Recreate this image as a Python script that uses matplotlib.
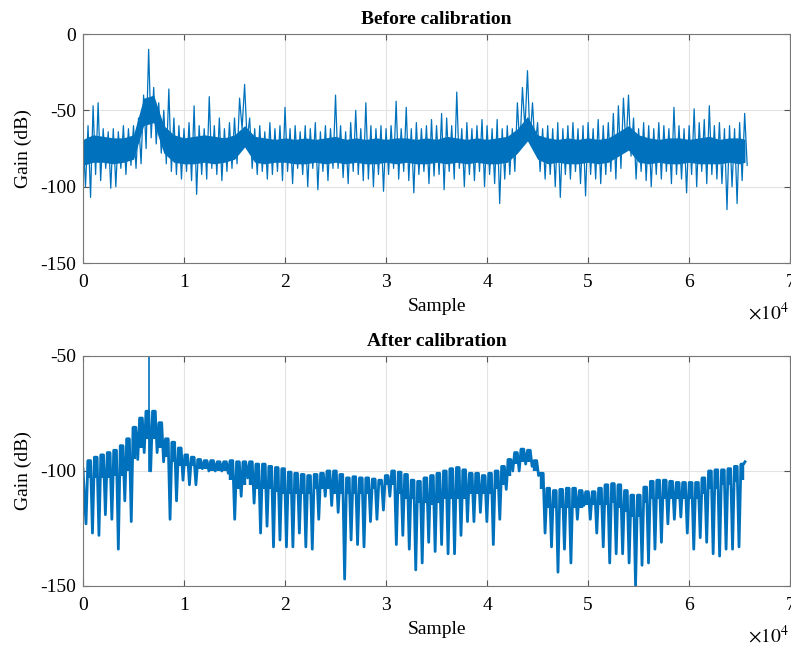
import numpy as np
import matplotlib
matplotlib.use("Agg")
import matplotlib.pyplot as plt

plt.rcParams['font.family'] = ['Liberation Serif', 'DejaVu Serif']
plt.rcParams['mathtext.fontset'] = 'stix'

n_samples = 65536

# ---- Before calibration: noisy spectrum, read as high/low swing every 500 samples
before_step = 500
before_hi = [
    -66, -60, -47, -45, -62, -64, -62, -64, -60, -62,
    -60, -55, -40, -10, -35, -45, -50, -36, -55, -60,
    -62, -58, -47, -60, -62, -41, -60, -55, -62, -58,
    -55, -42, -33, -55, -62, -60, -64, -58, -62, -60,
    -48, -62, -60, -64, -60, -62, -58, -64, -60, -62,
    -40, -60, -64, -58, -50, -62, -45, -60, -62, -60,
    -62, -60, -44, -62, -48, -62, -58, -62, -60, -56,
    -60, -52, -55, -60, -38, -62, -58, -62, -60, -56,
    -60, -62, -56, -62, -60, -62, -45, -35, -24, -45,
    -58, -62, -60, -62, -58, -62, -60, -58, -62, -60,
    -58, -62, -56, -60, -58, -52, -47, -42, -40, -55,
    -62, -58, -60, -62, -58, -60, -62, -48, -60, -62,
    -60, -49, -58, -56, -47, -60, -58, -62, -60, -62, -58, -52]
before_lo = [
    -100, -107, -92, -96, -88, -101, -100, -88, -92, -86,
    -88, -85, -75, -68, -72, -78, -85, -90, -92, -95,
    -90, -96, -105, -92, -95, -88, -92, -96, -90, -88,
    -85, -62, -70, -88, -92, -90, -95, -92, -90, -96,
    -90, -98, -88, -92, -100, -88, -102, -90, -96, -88,
    -88, -94, -98, -90, -92, -96, -95, -100, -92, -103,
    -92, -88, -95, -90, -96, -104, -92, -90, -98, -93,
    -92, -102, -90, -95, -88, -100, -92, -96, -90, -100,
    -92, -98, -111, -95, -92, -90, -75, -62, -70, -75,
    -90, -95, -92, -100, -107, -92, -95, -90, -98, -106,
    -92, -95, -98, -92, -90, -95, -88, -75, -80, -95,
    -90, -96, -100, -92, -95, -90, -98, -92, -95, -104,
    -92, -100, -90, -98, -92, -95, -98, -115, -100, -111, -96, -86]

# dense core of the noise band, every 1000 samples
core_step = 1000
before_core_hi = [
    -69, -66, -67, -68, -68, -66, -42, -40, -60, -66,
    -68, -67, -66, -67, -68, -66, -60, -67, -68, -69,
    -68, -69, -68, -69, -68, -67, -69, -68, -69, -68,
    -69, -68, -68, -69, -68, -69, -67, -68, -69, -68,
    -69, -68, -67, -62, -54, -66, -68, -69, -68, -69,
    -68, -69, -68, -64, -60, -66, -68, -69, -68, -68,
    -69, -68, -67, -69, -68, -68, -69]
before_core_lo = [
    -86, -84, -84, -85, -84, -82, -60, -58, -78, -84,
    -85, -85, -84, -85, -84, -82, -74, -84, -85, -84,
    -84, -85, -85, -84, -85, -84, -85, -84, -85, -85,
    -84, -85, -84, -85, -85, -84, -85, -84, -85, -84,
    -85, -85, -84, -78, -70, -82, -85, -84, -85, -85,
    -84, -85, -84, -80, -76, -84, -85, -84, -85, -85,
    -84, -85, -85, -85, -84, -85, -84]

# ---- After calibration: scalloped response, lobe tops and nulls every 640 samples
after_period = 640
after_first_null = 300
after_start = -99
after_end = -96
after_null = [
    -123, -127, -128, -119, -121, -134, -113, -122, -95, -92,
    -100, -92, -96, -121, -113, -104, -106, -106, -99, -100,
    -100, -100, -101, -121, -111, -103, -114, -127, -124, -133,
    -130, -133, -133, -127, -133, -134, -121, -111, -115, -118,
    -147, -130, -132, -133, -122, -121, -117, -111, -132, -128,
    -134, -143, -140, -131, -135, -132, -136, -136, -128, -122,
    -122, -118, -122, -132, -121, -108, -100, -100, -97, -98,
    -102, -127, -133, -144, -134, -140, -121, -115, -121, -127,
    -133, -140, -136, -136, -140, -150, -141, -140, -134, -131,
    -123, -121, -120, -127, -134, -129, -131, -136, -137, -134,
    -134, -133]
after_top = [
    -95.5, -94, -93, -92, -91, -89, -86, -81, -77, -74,
    -74, -79, -86, -87.5, -90, -93, -94, -95, -95.5, -95.5,
    -96, -96, -95.5, -96, -96, -96, -97, -97, -98, -98.5,
    -99, -100.5, -101, -101.5, -102, -101.5, -101, -100, -100, -101.5,
    -103, -102.5, -103, -103, -103.5, -104, -102, -100, -100.5, -101.5,
    -104, -104.5, -103, -102, -101, -100, -99, -98.5, -99.5, -101,
    -101, -102, -101, -100, -98, -95, -92, -90.5, -91, -95.5,
    -101, -107.5, -108.5, -108, -107.5, -107.5, -108.5, -109, -109, -107.5,
    -106, -105.5, -106, -108.5, -110.5, -110.5, -107, -104.5, -104, -104,
    -104.5, -105, -105, -105, -105, -103, -100, -99.5, -99.5, -99,
    -98, -97]
# lower edge of the solid part of each lobe
after_knee = [
    -103, -103, -103, -103, -102, -102, -100, -95, -90, -86,
    -86, -90, -94, -96, -98, -98, -98, -99, -99, -100,
    -100, -100, -104, -108, -106, -106, -108, -108, -108, -109,
    -110, -110, -110, -110, -110, -108, -108, -108, -110, -110,
    -110, -110, -110, -110, -108, -106, -106, -106, -110, -112,
    -112, -114, -114, -115, -114, -112, -112, -112, -112, -110,
    -110, -110, -110, -108, -106, -102, -97, -96, -96, -100,
    -108, -116, -116, -116, -116, -116, -116, -115, -115, -115,
    -115, -114, -116, -118, -120, -120, -114, -112, -112, -112,
    -112, -112, -112, -112, -112, -110, -108, -108, -106, -106,
    -105, -104]
after_spike_x = 6550
after_spike = [-100, -50]

blue = '#0072BD'

# zig-zag between the high and low readings
bx = np.arange(len(before_hi)) * before_step
before_x = np.column_stack([bx, bx + before_step / 2]).ravel()
before_y = np.column_stack([before_hi, before_lo]).ravel()
core_x = np.minimum(np.arange(len(before_core_hi)) * core_step, n_samples - 1)

# null -> lobe top (flat shoulders) -> next null
nx = after_first_null + np.arange(len(after_null)) * after_period
tx = nx + after_period / 2
half = 130
after_x = np.concatenate([[0], np.column_stack([nx, tx - half, tx + half]).ravel(), [n_samples - 1]])
after_y = np.concatenate([[after_start],
                          np.column_stack([after_null, after_top, after_top]).ravel(),
                          [after_end]])

fig = plt.figure(figsize=(7.91, 6.45), dpi=100)
ax1 = fig.add_axes([0.1049, 0.5922, 0.894, 0.355])
ax2 = fig.add_axes([0.1049, 0.0915, 0.894, 0.3566])

ax1.fill_between(core_x, before_core_lo, before_core_hi, color=blue, lw=0)
ax1.plot(before_x, before_y, color=blue, lw=0.9)

ax2.vlines(tx, after_knee, after_top, color=blue, lw=3.2)
ax2.plot(after_x, after_y, color=blue, lw=2.0, solid_joinstyle='round')
ax2.plot([after_spike_x, after_spike_x], after_spike, color=blue, lw=1.2)


def style(ax, title, yticks):
    ax.set_xlim(0, 70000)
    ax.set_ylim(yticks[0], yticks[-1])
    ax.set_xticks(np.arange(0, 70001, 10000))
    ax.set_xticklabels([str(i) for i in range(8)])
    ax.set_yticks(yticks)
    ax.set_yticklabels([str(v) for v in yticks])
    ax.grid(True, color='#e3e3e3', lw=0.8)
    ax.set_axisbelow(True)
    ax.tick_params(direction='in', top=True, right=True, length=4,
                   color='#555555', labelsize=14)
    ax.tick_params(axis='x', pad=8)
    ax.tick_params(axis='y', pad=5)
    for s in ax.spines.values():
        s.set_color('#777777')
        s.set_linewidth(0.8)
    ax.set_title(title, fontsize=14, fontweight='bold', pad=7)
    ax.set_xlabel('Sample', fontsize=14, labelpad=5)
    ax.set_ylabel('Gain (dB)', fontsize=14, labelpad=6)
    ax.text(0.998, -0.215, r'$\times 10^{4}$', transform=ax.transAxes,
            ha='right', va='center', fontsize=14)


style(ax1, 'Before calibration', [-150, -100, -50, 0])
style(ax2, 'After calibration', [-150, -100, -50])

fig.savefig('out.png', dpi=100)
